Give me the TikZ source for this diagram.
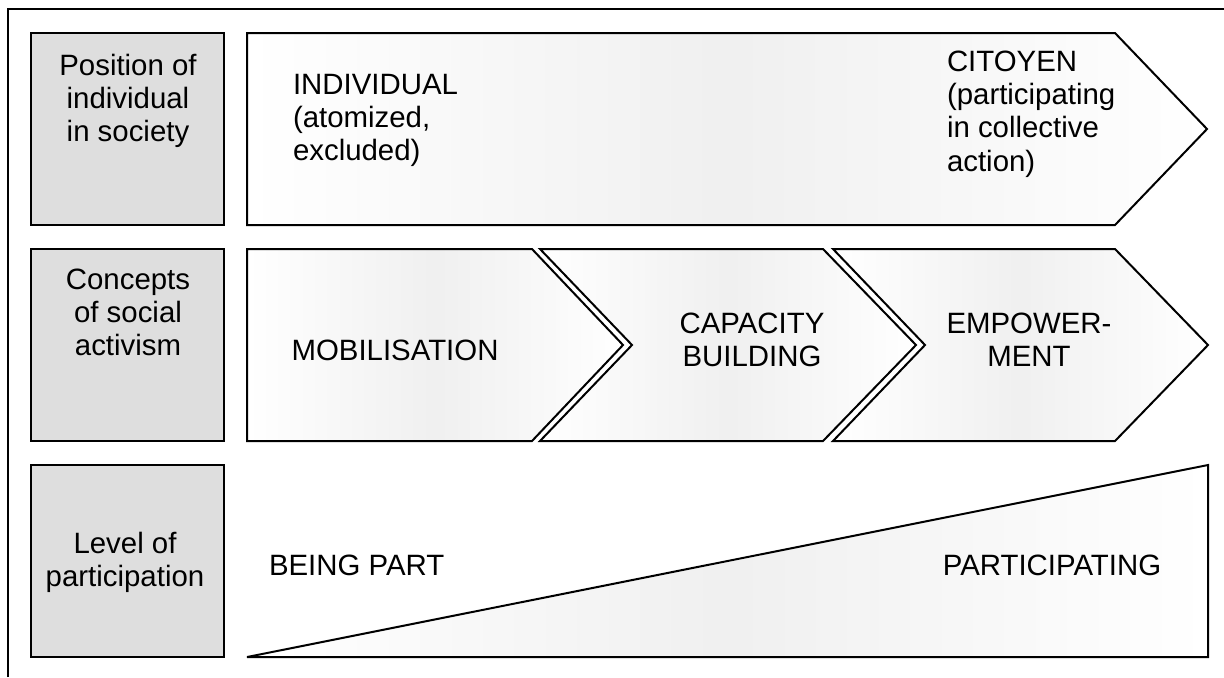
\documentclass[tikz,border=0pt]{standalone}
\usepackage{fontspec}
\setmainfont{Liberation Sans}
\usetikzlibrary{positioning}

\definecolor{headgray}{RGB}{222,222,222}

\begin{document}
\begin{tikzpicture}[x=0.5pt, y=-0.5pt, line width=1pt,
    headbox/.style={draw, fill=headgray},
    band/.style={draw, left color=white, right color=white, middle color=black!6},
    txt/.style={inner sep=0pt, font=\fontsize{14.7}{16.6}\selectfont}]
  \useasboundingbox (0,0) rectangle (1224,677);

  % frame (top and left only)
  \draw (8,677) -- (8,9) -- (1224,9);

  % row heads
  \draw [headbox] (31,33) rectangle (224,225);
  \draw [headbox] (31,249) rectangle (224,441);
  \draw [headbox] (31,465) rectangle (224,657);
  \node (position) [txt, align=center, anchor=north] at (128,53) {Position of\\individual\\in society};
  \node (concepts) [txt, align=center, anchor=north] at (128,268) {Concepts\\of social\\activism};
  \node (level) [txt, align=center] at (125,562) {Level of\\participation};

  % first row: one long arrow
  \draw [band] (247,33) -- (1115,33) -- (1207,129) -- (1115,225) -- (247,225) -- cycle;
  \node (individual) [txt, align=left, anchor=north west] at (292,73) {INDIVIDUAL\\(atomized,\\excluded)};
  \node (citoyen) [txt, align=left, anchor=north west] at (946,50) {CITOYEN\\(participating\\in collective\\action)};

  % second row: three chevrons
  \draw [band] (247,249) -- (532,249) -- (623,345) -- (532,441) -- (247,441) -- cycle;
  \draw [band] (540,249) -- (823,249) -- (916,345) -- (823,441) -- (540,441) -- (632,345) -- cycle;
  \draw [band] (833,249) -- (1115,249) -- (1208,345) -- (1115,441) -- (833,441) -- (925,345) -- cycle;
  \node (mobil) [txt] at (395,350) {MOBILISATION};
  \node (capacity) [txt, align=center] at (752,340) {CAPACITY\\BUILDING};
  \node (empower) [txt, align=center] at (1029,340) {EMPOWER-\\MENT};

  % third row: rising wedge
  \draw [band] (247,657) -- (1208,465) -- (1208,657) -- cycle;
  \node (being) [txt, anchor=west] at (268,565) {BEING PART};
  \node (particip) [txt] at (1052,565) {PARTICIPATING};
\end{tikzpicture}
\end{document}
